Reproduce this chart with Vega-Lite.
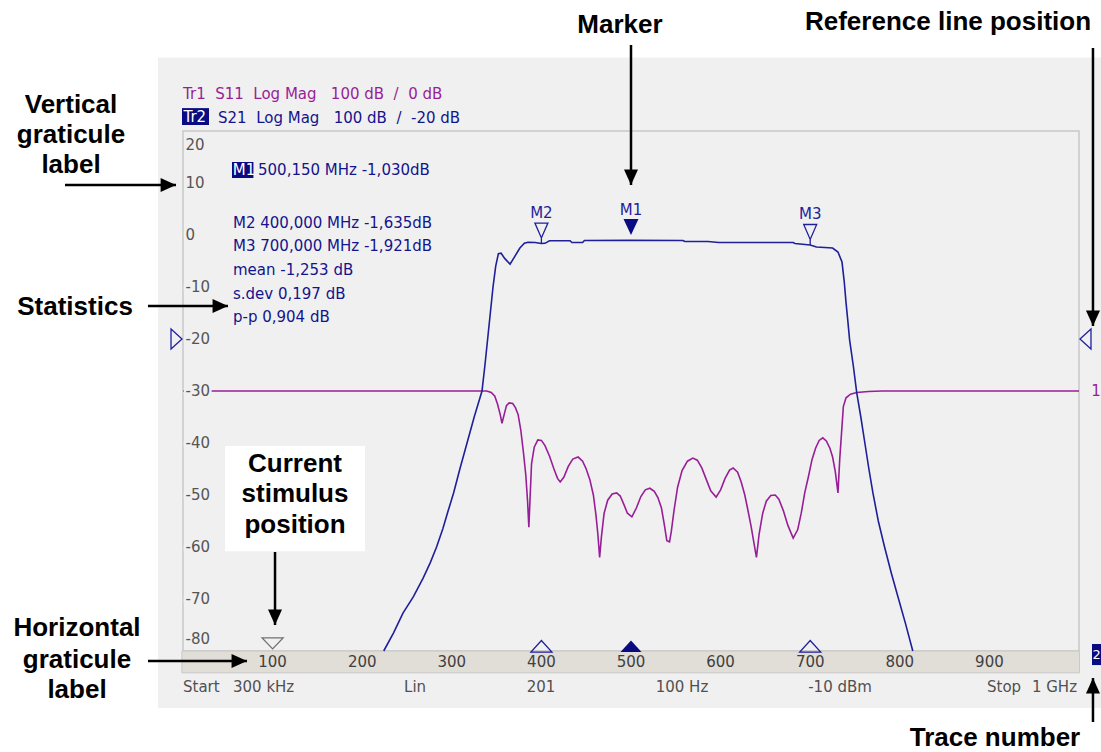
{
"$schema": "https://vega.github.io/schema/vega-lite/v6.json",
"width": 896, "height": 520,
"autosize": {"type": "none"},
"padding": {"left": 183, "top": 131, "right": 22, "bottom": 101},
"background": "#f0f0f0",
"config": {"view": {"stroke": "#c8c8c8", "strokeWidth": 1.5}},
"layer": [
 {"encoding": {
   "x": {"field": "f", "type": "quantitative", "scale": {"domain": [0, 1000], "nice": false, "zero": false},
    "axis": {"values": [100,200,300,400,500,600,700,800,900], "grid": true, "gridColor": "#c8c8c8", "gridWidth": 1.5, "labels": false, "ticks": false, "domain": false, "title": null}},
   "y": {"field": "v", "type": "quantitative", "scale": {"domain": [-80, 20], "nice": false, "zero": false},
    "axis": {"values": [10,0,-10,-20,-30,-40,-50,-60,-70], "grid": true, "gridColor": "#c8c8c8", "gridWidth": 1.5, "labels": false, "ticks": false, "domain": false, "title": null}}
  },
  "layer": [
   {"data": {"values": [{"f":-300,"f2":1200,"v":34.13,"v2":70},{"f":-300,"f2":-27.9,"v":70,"v2":-130},{"f":-300,"f2":1200,"v":-90.96,"v2":-130}]},
    "mark": {"type": "rect", "fill": "#ffffff"},
    "encoding": {"x2": {"field": "f2"}, "y2": {"field": "v2"}}},
   {"data": {"values": [{"f":-1.2,"f2":1000.6,"v":-80,"v2":-84.2}]},
    "mark": {"type": "rect", "fill": "#e1ddd7", "stroke": "#c8c8c8", "strokeWidth": 1},
    "encoding": {"x2": {"field": "f2"}, "y2": {"field": "v2"}}},
   {"data": {"values": [{"f":46.9,"f2":203.1,"v":-40.6,"v2":-60.8}]},
    "mark": {"type": "rect", "fill": "#ffffff"},
    "encoding": {"x2": {"field": "f2"}, "y2": {"field": "v2"}}},
   {"data": {"values": [
    {"f":0,"v":-30},{"f":339,"v":-30},{"f":344,"v":-30.3},{"f":348,"v":-31},{"f":351,"v":-32.5},{"f":354,"v":-34.5},{"f":356,"v":-36.2},{"f":358.5,"v":-34.5},{"f":361,"v":-32.8},{"f":364,"v":-32.3},{"f":368,"v":-32.4},{"f":371,"v":-33.2},{"f":374,"v":-34.5},{"f":377,"v":-37.5},{"f":380,"v":-41.9},{"f":382.5,"v":-46},{"f":384.5,"v":-51},{"f":386,"v":-56.2},{"f":387.5,"v":-50},{"f":389,"v":-44},{"f":392,"v":-40.8},{"f":396,"v":-39.4},{"f":400,"v":-39.5},{"f":404,"v":-40.5},{"f":409,"v":-42.5},{"f":414,"v":-45},{"f":418,"v":-46.8},{"f":421,"v":-47.5},{"f":425,"v":-46.6},{"f":430,"v":-44.5},{"f":435,"v":-43.1},{"f":441,"v":-42.7},{"f":446,"v":-43.5},{"f":450,"v":-45},{"f":454,"v":-47},{"f":458,"v":-50},{"f":461,"v":-54},{"f":463,"v":-57.5},{"f":465,"v":-62},{"f":467,"v":-58},{"f":470,"v":-53.5},{"f":474,"v":-51},{"f":479,"v":-49.8},{"f":484,"v":-49.6},{"f":488,"v":-50.2},{"f":492,"v":-51.8},{"f":496,"v":-53.5},{"f":501,"v":-54.2},{"f":506,"v":-52.5},{"f":511,"v":-50.3},{"f":516,"v":-49},{"f":521,"v":-48.7},{"f":526,"v":-49.3},{"f":530,"v":-50.5},{"f":534,"v":-52.5},{"f":537,"v":-55.5},{"f":540,"v":-58.8},{"f":543,"v":-59},{"f":545,"v":-57},{"f":548,"v":-53},{"f":552,"v":-48.5},{"f":557,"v":-45.3},{"f":563,"v":-43.5},{"f":569,"v":-42.9},{"f":574,"v":-43.3},{"f":579,"v":-44.8},{"f":584,"v":-47},{"f":589,"v":-49.2},{"f":595,"v":-50.4},{"f":600,"v":-49},{"f":605,"v":-46.8},{"f":610,"v":-45.2},{"f":614,"v":-44.8},{"f":619,"v":-45.6},{"f":623,"v":-47.5},{"f":627,"v":-50},{"f":630,"v":-52.5},{"f":634,"v":-56},{"f":637,"v":-59},{"f":640,"v":-62},{"f":643,"v":-57.5},{"f":647,"v":-53.5},{"f":651,"v":-51.2},{"f":656,"v":-50.1},{"f":661,"v":-50},{"f":665,"v":-50.8},{"f":670,"v":-53},{"f":675,"v":-55.8},{"f":681,"v":-58.3},{"f":686,"v":-56.7},{"f":690,"v":-53.5},{"f":694,"v":-49.5},{"f":698,"v":-46.5},{"f":702,"v":-43.2},{"f":706,"v":-41},{"f":710,"v":-39.5},{"f":714,"v":-39},{"f":718,"v":-39.6},{"f":722,"v":-41},{"f":725,"v":-42.7},{"f":728,"v":-45.5},{"f":731,"v":-49.6},{"f":733,"v":-43},{"f":735,"v":-38},{"f":737,"v":-33},{"f":740,"v":-31.3},{"f":745,"v":-30.6},{"f":752,"v":-30.3},{"f":765,"v":-30.1},{"f":780,"v":-30},{"f":1000,"v":-30}]},
    "mark": {"type": "line", "color": "#981e98", "strokeWidth": 1.6},
    "encoding": {}},
   {"data": {"values": [
    {"f":224,"v":-80},{"f":235,"v":-76.5},{"f":245.5,"v":-72.7},{"f":257,"v":-69.6},{"f":268,"v":-66},{"f":276,"v":-63},{"f":283,"v":-60},{"f":290,"v":-56.5},{"f":296,"v":-53},{"f":302,"v":-49.6},{"f":309,"v":-45},{"f":317,"v":-40},{"f":325,"v":-35},{"f":333.7,"v":-30},{"f":337,"v":-25},{"f":340,"v":-20},{"f":343,"v":-15},{"f":346,"v":-10},{"f":349,"v":-6},{"f":352,"v":-3.6},{"f":355,"v":-3.5},{"f":359,"v":-4.5},{"f":365,"v":-5.6},{"f":370,"v":-4.2},{"f":376,"v":-2.5},{"f":381,"v":-1.6},{"f":385,"v":-1.4},{"f":393,"v":-1.44},{"f":400,"v":-1.63},{"f":404,"v":-1.6},{"f":409,"v":-1.1},{"f":432,"v":-1.1},{"f":434,"v":-1.44},{"f":446,"v":-1.44},{"f":448,"v":-1.06},{"f":500,"v":-1.03},{"f":558,"v":-1.06},{"f":560,"v":-1.25},{"f":586,"v":-1.25},{"f":598,"v":-1.44},{"f":681,"v":-1.44},{"f":683,"v":-1.63},{"f":700,"v":-1.92},{"f":707,"v":-2.3},{"f":725,"v":-2.5},{"f":731,"v":-3.27},{"f":735.5,"v":-5.2},{"f":738,"v":-9},{"f":740,"v":-13},{"f":742,"v":-16.5},{"f":744,"v":-20.2},{"f":748,"v":-25},{"f":752,"v":-30.4},{"f":756.5,"v":-35},{"f":761,"v":-40},{"f":765.5,"v":-45},{"f":770,"v":-49.6},{"f":776,"v":-55},{"f":783,"v":-60},{"f":790.5,"v":-65},{"f":798,"v":-69.6},{"f":806,"v":-74.5},{"f":814.5,"v":-80}]},
    "mark": {"type": "line", "color": "#1f1f9a", "strokeWidth": 1.6},
    "encoding": {}},
   {"data": {"values": [{"name":"M1","f":500,"v":-1.03,"active":true},{"name":"M2","f":400,"v":-1.635,"active":false},{"name":"M3","f":700,"v":-1.921,"active":false}]},
    "layer": [
     {"transform": [{"filter": "!datum.active"}],
      "mark": {"type": "point", "shape": "M-1,-3.15L1,-3.15L0,-0.85ZM0,-0.85L0,0", "size": 169, "filled": false, "color": "#1f1f9a", "strokeWidth": 1.3, "opacity": 1}},
     {"transform": [{"filter": "datum.active"}],
      "mark": {"type": "point", "shape": "M-1,-2.85L1,-2.85L0,-0.7ZM0,-0.7L0,0", "size": 225, "filled": true, "color": "#0a0a82", "strokeWidth": 1.3, "opacity": 1}},
     {"mark": {"type": "text", "dy": -30.5, "font": "DejaVu Sans", "fontSize": 15, "color": "#1f1f9a"},
      "encoding": {"text": {"field": "name"}}}
    ]}
  ]},
 {"data": {"values": [{"label":"10","v":10},{"label":"0","v":0},{"label":"-10","v":-10},{"label":"-20","v":-20},{"label":"-30","v":-30},{"label":"-40","v":-40},{"label":"-50","v":-50},{"label":"-60","v":-60},{"label":"-70","v":-70}]},
  "encoding": {
   "x": {"datum": 0, "type": "quantitative", "scale": {"domain": [0, 1000], "nice": false, "zero": false}, "axis": null},
   "y": {"field": "v", "type": "quantitative", "scale": {"domain": [-80, 20], "nice": false, "zero": false}, "axis": null},
   "text": {"field": "label"}},
  "layer": [
   {"mark": {"type": "text", "align": "left", "dx": 2.5, "font": "DejaVu Sans", "fontSize": 15, "fill": "#f0f0f0", "stroke": "#f0f0f0", "strokeWidth": 5}},
   {"mark": {"type": "text", "align": "left", "dx": 2.5, "font": "DejaVu Sans", "fontSize": 15, "color": "#555555"}}
  ]},
 {"data": {"values": [{"label":"20","v":20}]},
  "mark": {"type": "text", "align": "left", "dx": 2.5, "dy": 14, "font": "DejaVu Sans", "fontSize": 15, "color": "#555555"},
  "encoding": {
   "x": {"datum": 0, "type": "quantitative", "scale": {"domain": [0, 1000], "nice": false, "zero": false}, "axis": null},
   "y": {"field": "v", "type": "quantitative", "scale": {"domain": [-80, 20], "nice": false, "zero": false}, "axis": null},
   "text": {"field": "label"}}},
 {"data": {"values": [{"label":"-80","v":-80}]},
  "mark": {"type": "text", "align": "left", "dx": 2.5, "dy": -12.5, "font": "DejaVu Sans", "fontSize": 15, "color": "#555555"},
  "encoding": {
   "x": {"datum": 0, "type": "quantitative", "scale": {"domain": [0, 1000], "nice": false, "zero": false}, "axis": null},
   "y": {"field": "v", "type": "quantitative", "scale": {"domain": [-80, 20], "nice": false, "zero": false}, "axis": null},
   "text": {"field": "label"}}},
 {"data": {"values": [{"f":100},{"f":200},{"f":300},{"f":400},{"f":500},{"f":600},{"f":700},{"f":800},{"f":900}]},
  "mark": {"type": "text", "font": "DejaVu Sans", "fontSize": 15, "color": "#404040"},
  "encoding": {
   "x": {"field": "f", "type": "quantitative", "scale": {"domain": [0, 1000], "nice": false, "zero": false}, "axis": null},
   "y": {"datum": -82.1, "type": "quantitative", "scale": {"domain": [-80, 20], "nice": false, "zero": false}, "axis": null},
   "text": {"field": "f", "type": "quantitative", "format": "d"}}},
 {"data": {"values": [{"name":"M1","f":500,"active":true},{"name":"M2","f":400,"active":false},{"name":"M3","f":700,"active":false}]},
  "encoding": {
   "x": {"field": "f", "type": "quantitative", "scale": {"domain": [0, 1000], "nice": false, "zero": false}, "axis": null},
   "y": {"datum": -80.2, "type": "quantitative", "scale": {"domain": [-80, 20], "nice": false, "zero": false}, "axis": null}},
  "layer": [
   {"transform": [{"filter": "!datum.active"}],
    "mark": {"type": "point", "shape": "M-1,0L1,0L0,-1.1Z", "size": 441, "filled": false, "color": "#1f1f9a", "strokeWidth": 1.3, "opacity": 1}},
   {"transform": [{"filter": "datum.active"}],
    "mark": {"type": "point", "shape": "M-1,0L1,0L0,-1.1Z", "size": 441, "filled": true, "color": "#0a0a82", "opacity": 1}}
  ]},
 {"data": {"values": [{"f":100}]},
  "mark": {"type": "point", "shape": "M-1,-1.05L1,-1.05L0,0Z", "size": 441, "filled": false, "color": "#707070", "strokeWidth": 1.3, "opacity": 1},
  "encoding": {
   "x": {"field": "f", "type": "quantitative", "scale": {"domain": [0, 1000], "nice": false, "zero": false}, "axis": null},
   "y": {"datum": -79.6, "type": "quantitative", "scale": {"domain": [-80, 20], "nice": false, "zero": false}, "axis": null}}},
 {"data": {"values": [{"v":-20}]},
  "layer": [
   {"mark": {"type": "point", "shape": "M-1.1,-1L0,0L-1.1,1Z", "size": 400, "filled": false, "color": "#2020a0", "strokeWidth": 1.3, "opacity": 1},
    "encoding": {
     "x": {"datum": -1.1, "type": "quantitative", "scale": {"domain": [0, 1000], "nice": false, "zero": false}, "axis": null},
     "y": {"field": "v", "type": "quantitative", "scale": {"domain": [-80, 20], "nice": false, "zero": false}, "axis": null}}},
   {"mark": {"type": "point", "shape": "M1.1,-1L0,0L1.1,1Z", "size": 400, "filled": false, "color": "#2020a0", "strokeWidth": 1.3, "opacity": 1},
    "encoding": {
     "x": {"datum": 1001.1, "type": "quantitative", "scale": {"domain": [0, 1000], "nice": false, "zero": false}, "axis": null},
     "y": {"field": "v", "type": "quantitative", "scale": {"domain": [-80, 20], "nice": false, "zero": false}, "axis": null}}}
  ]},
 {"encoding": {
   "x": {"field": "f", "type": "quantitative", "scale": {"domain": [0, 1000], "nice": false, "zero": false}, "axis": null},
   "y": {"field": "v", "type": "quantitative", "scale": {"domain": [-80, 20], "nice": false, "zero": false}, "axis": null}
  },
  "layer": [
   {"data": {"values": [{"f":-1.1,"f2":29,"v":24.4,"v2":21.15},{"f":54.7,"f2":78.6,"v":14.04,"v2":10.96},{"f":1014.5,"f2":1030,"v":-78.65,"v2":-82.7}]},
    "mark": {"type": "rect", "fill": "#0a0a82"},
    "encoding": {"x2": {"field": "f2"}, "y2": {"field": "v2"}}},
   {"data": {"values": [{"f":0.5,"v":22.6,"t":"Tr2"},{"f":55.5,"v":12.5,"t":"M1"}]},
    "mark": {"type": "text", "align": "left", "font": "DejaVu Sans", "fontSize": 15, "color": "#ffffff"},
    "encoding": {"text": {"field": "t"}}},
   {"data": {"values": [{"f":1019.6,"v":-80.7,"t":"2"}]},
    "mark": {"type": "text", "align": "center", "font": "DejaVu Sans", "fontSize": 13, "color": "#ffffff"},
    "encoding": {"text": {"field": "t"}}},
   {"data": {"values": [{"f":0,"v":27.2,"t":"Tr1\u00a0\u00a0S11\u00a0\u00a0Log Mag\u00a0\u00a0\u00a0100 dB\u00a0\u00a0/\u00a0\u00a00 dB"}]},
    "mark": {"type": "text", "align": "left", "font": "DejaVu Sans", "fontSize": 15, "color": "#981e98"},
    "encoding": {"text": {"field": "t"}}},
   {"data": {"values": [{"f":1019,"v":-30,"t":"1"}]},
    "mark": {"type": "text", "align": "center", "font": "DejaVu Sans", "fontSize": 15, "color": "#981e98"},
    "encoding": {"text": {"field": "t"}}},
   {"data": {"values": [
     {"f":39.1,"v":22.5,"t":"S21\u00a0\u00a0Log Mag\u00a0\u00a0\u00a0100 dB\u00a0\u00a0/\u00a0\u00a0-20 dB"},
     {"f":83.7,"v":12.5,"t":"500,150 MHz -1,030dB"},
     {"f":55.8,"v":2.31,"t":"M2 400,000 MHz -1,635dB"},
     {"f":55.8,"v":-2.21,"t":"M3 700,000 MHz -1,921dB"},
     {"f":55.8,"v":-6.73,"t":"mean -1,253 dB"},
     {"f":55.8,"v":-11.25,"t":"s.dev 0,197 dB"},
     {"f":55.8,"v":-15.77,"t":"p-p 0,904 dB"}]},
    "mark": {"type": "text", "align": "left", "font": "DejaVu Sans", "fontSize": 15, "color": "#14148c"},
    "encoding": {"text": {"field": "t"}}},
   {"data": {"values": [{"f":0,"v":-86.9,"t":"Start"},{"f":55.8,"v":-86.9,"t":"300 kHz"},{"f":897.3,"v":-86.9,"t":"Stop"}]},
    "mark": {"type": "text", "align": "left", "font": "DejaVu Sans", "fontSize": 15, "color": "#505050"},
    "encoding": {"text": {"field": "t"}}},
   {"data": {"values": [{"f":259,"v":-86.9,"t":"Lin"},{"f":399.6,"v":-86.9,"t":"201"},{"f":556.9,"v":-86.9,"t":"100 Hz"},{"f":733.3,"v":-86.9,"t":"-10 dBm"}]},
    "mark": {"type": "text", "align": "center", "font": "DejaVu Sans", "fontSize": 15, "color": "#505050"},
    "encoding": {"text": {"field": "t"}}},
   {"data": {"values": [{"f":997.8,"v":-86.9,"t":"1 GHz"}]},
    "mark": {"type": "text", "align": "right", "font": "DejaVu Sans", "fontSize": 15, "color": "#505050"},
    "encoding": {"text": {"field": "t"}}},
   {"data": {"values": [
     {"f":500,"v":36.54,"f2":500,"v2":9.62},
     {"f":1015.6,"v":35.96,"f2":1015.6,"v2":-17.5},
     {"f":102.7,"v":-60.96,"f2":102.7,"v2":-75},
     {"f":-131.7,"v":9.6,"f2":-7.8,"v2":9.6},
     {"f":-39.1,"v":-13.65,"f2":50.2,"v2":-13.65},
     {"f":-39.1,"v":-81.9,"f2":71.4,"v2":-81.9},
     {"f":1015.6,"v":-93.65,"f2":1015.6,"v2":-85.2}]},
    "layer": [
     {"mark": {"type": "rule", "color": "#000000", "strokeWidth": 2.5},
      "encoding": {"x2": {"field": "f2"}, "y2": {"field": "v2"}}},
     {"transform": [{"filter": "datum.f == datum.f2 && datum.v2 < datum.v"}],
      "mark": {"type": "point", "shape": "M-1,-2.2L1,-2.2L0,0Z", "size": 196, "filled": true, "color": "#000000", "opacity": 1},
      "encoding": {"x": {"field": "f2", "type": "quantitative"}, "y": {"field": "v2", "type": "quantitative"}}},
     {"transform": [{"filter": "datum.f == datum.f2 && datum.v2 > datum.v"}],
      "mark": {"type": "point", "shape": "M-1,2.2L1,2.2L0,0Z", "size": 196, "filled": true, "color": "#000000", "opacity": 1},
      "encoding": {"x": {"field": "f2", "type": "quantitative"}, "y": {"field": "v2", "type": "quantitative"}}},
     {"transform": [{"filter": "datum.v == datum.v2"}],
      "mark": {"type": "point", "shape": "M-2.2,-1L0,0L-2.2,1Z", "size": 196, "filled": true, "color": "#000000", "opacity": 1},
      "encoding": {"x": {"field": "f2", "type": "quantitative"}, "y": {"field": "v2", "type": "quantitative"}}}
    ]},
   {"data": {"values": [
     {"f":487.7,"v":40.4,"t":"Marker"},
     {"f":853.8,"v":40.96,"t":"Reference line position"},
     {"f":-125,"v":25,"t":"Vertical"},
     {"f":-125,"v":19.23,"t":"graticule"},
     {"f":-125,"v":13.46,"t":"label"},
     {"f":-120.5,"v":-13.85,"t":"Statistics"},
     {"f":125,"v":-44.0,"t":"Current"},
     {"f":125,"v":-49.9,"t":"stimulus"},
     {"f":125,"v":-55.8,"t":"position"},
     {"f":-118.3,"v":-75.6,"t":"Horizontal"},
     {"f":-118.3,"v":-81.7,"t":"graticule"},
     {"f":-118.3,"v":-87.5,"t":"label"},
     {"f":906.2,"v":-96.7,"t":"Trace number"}]},
    "mark": {"type": "text", "align": "center", "font": "Liberation Sans", "fontWeight": "bold", "fontSize": 26, "color": "#000000"},
    "encoding": {"text": {"field": "t"}}}
  ]}
]
}
